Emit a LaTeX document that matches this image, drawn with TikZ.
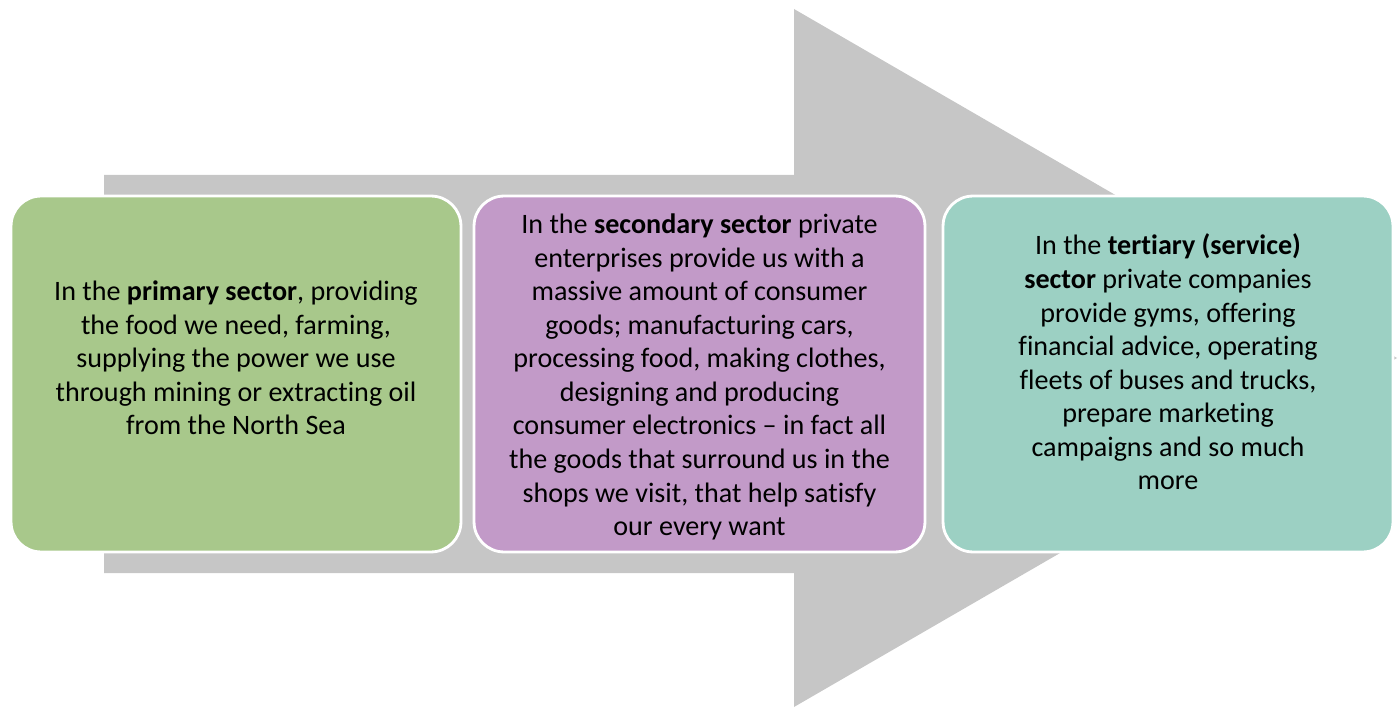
\documentclass[tikz,border=0pt]{standalone}
\usepackage{fontspec}
\setmainfont[Ligatures={NoCommon}]{Carlito}
\definecolor{arrowgray}{HTML}{C6C6C6}
\definecolor{green}{HTML}{A8C88B}
\definecolor{purple}{HTML}{C29AC8}
\definecolor{teal}{HTML}{9CD0C3}

\begin{document}
\begin{tikzpicture}[x=0.02cm, y=-0.02cm,
  every node/.style={font=\fontsize{16}{19.1}\selectfont},
  sector/.style={draw=white, line width=1.6pt, rounded corners=0.6cm, minimum width=9cm, minimum height=7.12cm}]
  \useasboundingbox (0,0) rectangle (1399,709);
  % big grey arrow behind the boxes
  \fill[arrowgray] (104,175) -- (794,175) -- (794,9) -- (1397,358) -- (794,707) -- (794,573) -- (104,573) -- cycle;

  % sector boxes
  \node[sector, fill=green] (primary) at (236,374) {};
  \node[sector, fill=purple, minimum width=9.02cm] (secondary) at (699.5,374) {};
  \node[sector, fill=teal] (tertiary) at (1168,374) {};

  % texts inside the boxes
  \node[align=center] (primarytext) at ([yshift=0.32cm]primary.center) {In the \textbf{primary sector}, providing\\ the food we need, farming,\\ supplying the power we use\\ through mining or extracting oil\\ from the North Sea};
  \node[align=center] (secondarytext) at ([yshift=-0.06cm]secondary.center) {In the \textbf{secondary sector} private\\ enterprises provide us with a\\ massive amount of consumer\\ goods; manufacturing cars,\\ processing food, making clothes,\\ designing and producing\\ consumer electronics – in fact all\\ the goods that surround us in the\\ shops we visit, that help satisfy\\ our every want};
  \node[align=center] (tertiarytext) at ([yshift=0.24cm]tertiary.center) {In the \textbf{tertiary (service)}\\ \textbf{sector} private companies\\ provide gyms, offering\\ financial advice, operating\\ fleets of buses and trucks,\\ prepare marketing\\ campaigns and so much\\ more};
\end{tikzpicture}
\end{document}
